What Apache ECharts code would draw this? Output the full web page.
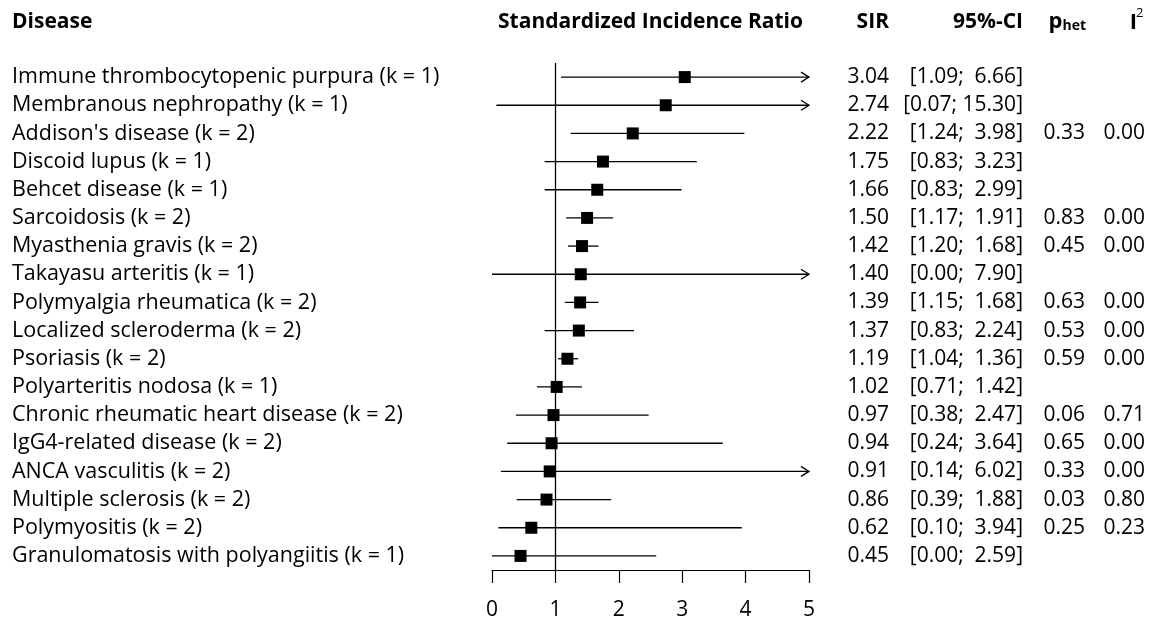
<!DOCTYPE html>
<html>
<head>
<meta charset="utf-8">
<script src="https://cdn.jsdelivr.net/npm/echarts@6/dist/echarts.min.js"></script>
<style>
html,body{margin:0;padding:0;background:#fff;}
#main{width:1151px;height:621px;}
</style>
</head>
<body>
<div id="main"></div>
<script>
const diseases = [
  'Immune thrombocytopenic purpura (k = 1)',
  'Membranous nephropathy (k = 1)',
  "Addison's disease (k = 2)",
  'Discoid lupus (k = 1)',
  'Behcet disease (k = 1)',
  'Sarcoidosis (k = 2)',
  'Myasthenia gravis (k = 2)',
  'Takayasu arteritis (k = 1)',
  'Polymyalgia rheumatica (k = 2)',
  'Localized scleroderma (k = 2)',
  'Psoriasis (k = 2)',
  'Polyarteritis nodosa (k = 1)',
  'Chronic rheumatic heart disease (k = 2)',
  'IgG4-related disease (k = 2)',
  'ANCA vasculitis (k = 2)',
  'Multiple sclerosis (k = 2)',
  'Polymyositis (k = 2)',
  'Granulomatosis with polyangiitis (k = 1)'
];
const sir   = [3.04, 2.74, 2.22, 1.75, 1.66, 1.50, 1.42, 1.40, 1.39, 1.37, 1.19, 1.02, 0.97, 0.94, 0.91, 0.86, 0.62, 0.45];
const lower = [1.09, 0.07, 1.24, 0.83, 0.83, 1.17, 1.20, 0.00, 1.15, 0.83, 1.04, 0.71, 0.38, 0.24, 0.14, 0.39, 0.10, 0.00];
const upper = [6.66, 15.30, 3.98, 3.23, 2.99, 1.91, 1.68, 7.90, 1.68, 2.24, 1.36, 1.42, 2.47, 3.64, 6.02, 1.88, 3.94, 2.59];
const pHet  = [null, null, 0.33, null, null, 0.83, 0.45, null, 0.63, 0.53, 0.59, null, 0.06, 0.65, 0.33, 0.03, 0.25, null];
const i2    = [null, null, 0.00, null, null, 0.00, 0.00, null, 0.00, 0.00, 0.00, null, 0.71, 0.00, 0.00, 0.80, 0.23, null];
const xTicks = [0, 1, 2, 3, 4, 5];
const refValue = 1;

const FONT = "'Open Sans', 'Noto Sans', sans-serif";
const FS = 21;
const X_MIN = xTicks[0], X_MAX = xTicks[xTicks.length - 1];

function fmt(v) { return v.toFixed(2); }
function ciText(lo, hi) {
  const hs = fmt(hi);
  return '[' + fmt(lo) + ';' + (hs.length < 5 ? '  ' : ' ') + hs + ']';
}

const chart = echarts.init(document.getElementById('main'));

const ciData = diseases.map((d, i) => [lower[i], i, upper[i]]);
const pointData = diseases.map((d, i) => [sir[i], i]);
const textData = diseases.map((d, i) => [0, i]);

const colX = { sir: 889, ci: 1023, phet: 1085, i2: 1145 };
const HEAD = 'bold ' + FS + 'px ' + FONT;

const option = {
  animation: false,
  backgroundColor: '#ffffff',
  textStyle: { fontFamily: FONT },
  grid: { left: 492, top: 63, width: 317, height: 509 },
  xAxis: {
    type: 'value', min: X_MIN, max: X_MAX, interval: 1,
    axisLine: { show: true, lineStyle: { color: '#000', width: 1.2 } },
    axisTick: { show: true, inside: false, length: 13, lineStyle: { color: '#000', width: 1.2 } },
    axisLabel: { color: '#000', fontSize: FS, fontFamily: FONT, margin: 30 },
    splitLine: { show: false }
  },
  yAxis: {
    type: 'category', data: diseases, inverse: true,
    axisLine: { show: false }, axisTick: { show: false }, splitLine: { show: false },
    axisLabel: { interval: 0, hideOverlap: false, align: 'left', margin: 480, color: '#000', fontSize: 21.5, fontFamily: FONT }
  },
  graphic: [
    { type: 'text', x: 12, y: 22, style: { text: 'Disease', font: HEAD, fill: '#000', align: 'left', verticalAlign: 'middle' } },
    { type: 'text', x: 650.5, y: 22, style: { text: 'Standardized Incidence Ratio', font: HEAD, fill: '#000', align: 'center', verticalAlign: 'middle' } },
    { type: 'text', x: 889, y: 22, style: { text: 'SIR', font: HEAD, fill: '#000', align: 'right', verticalAlign: 'middle' } },
    { type: 'text', x: 1023, y: 22, style: { text: '95%-CI', font: HEAD, fill: '#000', align: 'right', verticalAlign: 'middle' } },
    { type: 'text', x: 1086, y: 22, style: { text: '{p|p}{s|het}', align: 'right', verticalAlign: 'middle', fill: '#000',
        rich: { p: { font: 'bold 22px ' + FONT, fill: '#000' }, s: { font: 'bold 14px ' + FONT, fill: '#000', padding: [8, 0, 0, 0] } } } },
    { type: 'text', x: 1137, y: 23, style: { text: 'I', font: 'bold 22px ' + FONT, fill: '#000', align: 'right', verticalAlign: 'middle' } },
    { type: 'text', x: 1136, y: 13, style: { text: '2', font: '13px ' + FONT, fill: '#000', align: 'left', verticalAlign: 'middle' } }
  ],
  series: [
    {
      type: 'custom',
      data: ciData,
      encode: { x: [0, 2], y: 1 },
      z: 2,
      renderItem: function (params, api) {
        const lo = Math.max(api.value(0), X_MIN);
        const hi = api.value(2);
        const row = api.value(1);
        const p1 = api.coord([lo, row]);
        const p2 = api.coord([Math.min(hi, X_MAX), row]);
        const children = [{
          type: 'line',
          shape: { x1: p1[0], y1: p1[1], x2: p2[0], y2: p2[1] },
          style: { stroke: '#000', lineWidth: 1.3 }
        }];
        if (hi > X_MAX) {
          children.push({
            type: 'polyline',
            shape: { points: [[p2[0] - 8, p2[1] - 5], [p2[0], p2[1]], [p2[0] - 8, p2[1] + 5]] },
            style: { stroke: '#000', lineWidth: 1.3, fill: null }
          });
        }
        return { type: 'group', children: children };
      },
      markLine: {
        silent: true, symbol: 'none', label: { show: false },
        lineStyle: { color: '#000', width: 1.3, type: 'solid' },
        data: [{ xAxis: refValue }]
      }
    },
    {
      type: 'scatter',
      data: pointData,
      symbol: 'rect',
      symbolSize: 12,
      itemStyle: { color: '#000', opacity: 1 },
      z: 3
    },
    {
      type: 'custom',
      data: textData,
      encode: { x: 0, y: 1 },
      clip: false,
      renderItem: function (params, api) {
        const i = api.value(1);
        const y = api.coord([0, i])[1];
        const base = { font: FS + 'px ' + FONT, fill: '#000', align: 'right', verticalAlign: 'middle' };
        const ch = [
          { type: 'text', x: colX.sir, y: y, style: Object.assign({ text: fmt(sir[i]) }, base) },
          { type: 'text', x: colX.ci, y: y, style: Object.assign({ text: ciText(lower[i], upper[i]) }, base) }
        ];
        if (pHet[i] !== null) ch.push({ type: 'text', x: colX.phet, y: y, style: Object.assign({ text: fmt(pHet[i]) }, base) });
        if (i2[i] !== null) ch.push({ type: 'text', x: colX.i2, y: y, style: Object.assign({ text: fmt(i2[i]) }, base) });
        return { type: 'group', children: ch };
      }
    }
  ]
};
chart.setOption(option);
</script>
</body>
</html>
